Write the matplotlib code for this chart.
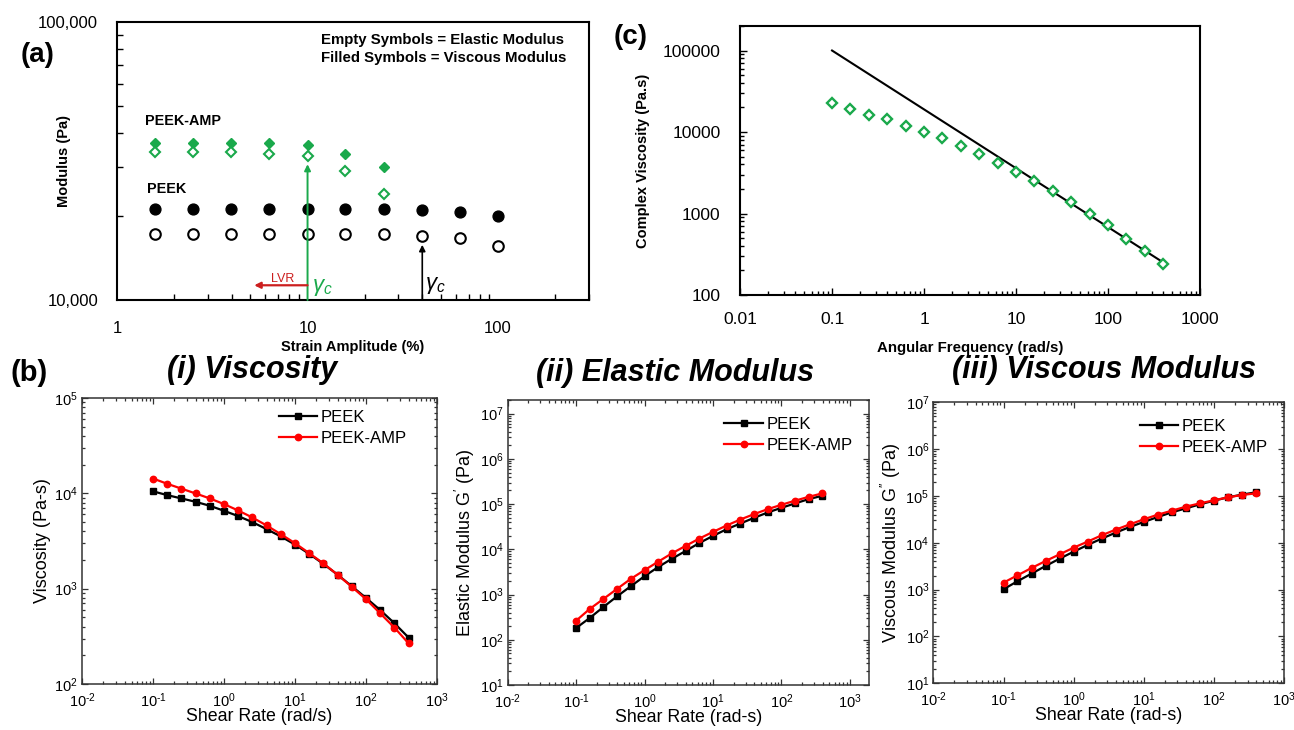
import math
import matplotlib
matplotlib.use("Agg")
import matplotlib.pyplot as plt
from matplotlib.ticker import LogLocator, FuncFormatter, NullFormatter, FixedLocator, FixedFormatter

plt.rcParams['font.family'] = ['Liberation Sans', 'DejaVu Sans']
plt.rcParams['mathtext.fontset'] = 'custom'
plt.rcParams['mathtext.rm'] = 'Liberation Sans'
plt.rcParams['mathtext.it'] = 'Liberation Sans:italic'
plt.rcParams['mathtext.bf'] = 'Liberation Sans:bold'
plt.rcParams['axes.unicode_minus'] = False

GREEN = "#1aa94b"

# ---------------- (a) amplitude sweep ----------------
strain = [1.58, 2.51, 3.98, 6.31, 10.0, 15.8, 25.1, 39.8, 63.1, 100.0]
peek_viscous = [21200, 21200, 21200, 21200, 21200, 21200, 21200, 21100, 20800, 20000]
peek_elastic = [17300, 17300, 17300, 17300, 17300, 17300, 17300, 17000, 16700, 15700]
amp_strain = [1.58, 2.51, 3.98, 6.31, 10.0, 15.8, 25.1]
amp_viscous = [36800, 36800, 36800, 36600, 36100, 33400, 30200]
amp_elastic = [34000, 34000, 34000, 33400, 33000, 29000, 24000]
gamma_c_amp = 10.0
gamma_c_peek = 40.0
a_xticks = [1, 10, 100]
a_xticklabels = ["1", "10", "100"]
a_yticks = [10000, 100000]
a_yticklabels = ["10,000", "100,000"]

# ---------------- (c) complex viscosity ----------------
freq = [0.1, 0.158, 0.251, 0.398, 0.631, 1.0, 1.58, 2.51, 3.98, 6.31, 10.0,
        15.8, 25.1, 39.8, 63.1, 100.0, 158.0, 251.0, 398.0]
complex_visc = [22600, 19000, 16000, 14300, 12000, 10000, 8450, 6750, 5380, 4220, 3270,
                2490, 1880, 1390, 1000, 721, 490, 344, 238]
fit_freq = [0.1, 400.0]
fit_visc = [100000, 250]

# ---------------- (b) shear rate sweeps ----------------
rate = freq
visc_peek = [10500, 9580, 8840, 8150, 7400, 6560, 5770, 4990, 4210, 3530, 2900,
             2320, 1820, 1400, 1060, 800, 598, 434, 307]
visc_amp = [14300, 12600, 11200, 9970, 8840, 7710, 6610, 5580, 4600, 3730, 3000,
            2360, 1840, 1400, 1045, 775, 552, 391, 267]
gp_peek = [182, 303, 532, 918, 1530, 2550, 4050, 6200, 9180, 13800, 19800,
           27800, 37200, 49700, 65300, 82900, 103500, 129000, 153000]
gp_amp = [264, 480, 801, 1340, 2230, 3470, 5320, 8150, 11900, 17300, 24300,
          33600, 45600, 60000, 77400, 96600, 119000, 145000, 173000]
gpp_peek = [1020, 1510, 2200, 3200, 4590, 6480, 8990, 12300, 16500, 21800, 27900,
            35600, 44800, 54500, 66400, 79400, 93700, 107000, 120000]
gpp_amp = [1410, 2020, 2900, 4090, 5680, 7890, 10600, 14500, 19100, 24800, 31800,
           39900, 48600, 59200, 69700, 80800, 93700, 105000, 114000]

fig = plt.figure(figsize=(12.94, 7.30), dpi=100)

# ===== panel (a) =====
axa = fig.add_axes([0.0904, 0.589, 0.3648, 0.3808])
axa.set_xscale('log'); axa.set_yscale('log')
axa.plot(strain, peek_viscous, 'o', color='black', ms=7.8, zorder=3)
axa.plot(strain, peek_elastic, 'o', mfc='white', mec='black', mew=1.5, ms=7.6, zorder=3)
axa.plot(amp_strain, amp_viscous, 'D', color=GREEN, ms=5.4, zorder=3)
axa.plot(amp_strain, amp_elastic, 'D', mfc='white', mec=GREEN, mew=1.5, ms=5.0, zorder=3)
axa.set_xlim(1, 300); axa.set_ylim(10000, 100000)
axa.xaxis.set_major_locator(FixedLocator(a_xticks))
axa.xaxis.set_major_formatter(FixedFormatter(a_xticklabels))
axa.xaxis.set_minor_locator(LogLocator(base=10, subs=range(2, 10)))
axa.xaxis.set_minor_formatter(NullFormatter())
axa.yaxis.set_major_locator(FixedLocator(a_yticks))
axa.yaxis.set_major_formatter(FixedFormatter(a_yticklabels))
axa.yaxis.set_minor_locator(LogLocator(base=10, subs=range(2, 10)))
axa.yaxis.set_minor_formatter(NullFormatter())
axa.tick_params(which='both', direction='in', top=False, right=False, labelsize=12, width=1.0)
axa.tick_params(which='major', length=0)
axa.tick_params(axis='x', which='major', pad=15)
axa.tick_params(axis='y', which='major', pad=13.5)
axa.tick_params(which='minor', length=4)
for s in axa.spines.values():
    s.set_linewidth(1.5)
axa.set_xlabel("Strain Amplitude (%)", fontweight='bold', fontsize=10.5, labelpad=3)
axa.set_ylabel("Modulus (Pa)", fontweight='bold', fontsize=10.5)
axa.yaxis.set_label_coords(-0.097, 0.5)
axa.text(0.432, 0.935, "Empty Symbols = Elastic Modulus", transform=axa.transAxes,
         fontsize=10.8, fontweight='bold', va='center')
axa.text(0.432, 0.87, "Filled Symbols = Viscous Modulus", transform=axa.transAxes,
         fontsize=10.8, fontweight='bold', va='center')
axa.text(1.41, 44000, "PEEK-AMP", fontsize=10.4, fontweight='bold', va='center')
axa.text(1.43, 25000, "PEEK", fontsize=10.4, fontweight='bold', va='center')
axa.annotate("", xy=(gamma_c_amp, 30800), xytext=(gamma_c_amp, 10000),
             arrowprops=dict(arrowstyle='-|>', color=GREEN, lw=1.4, mutation_scale=9,
                             shrinkA=0, shrinkB=0))
axa.annotate("", xy=(gamma_c_peek, 15800), xytext=(gamma_c_peek, 10000),
             arrowprops=dict(arrowstyle='-|>', color='black', lw=1.2, mutation_scale=9,
                             shrinkA=0, shrinkB=0))
axa.annotate("", xy=(5.25, 11300), xytext=(gamma_c_amp, 11300),
             arrowprops=dict(arrowstyle='-|>', color='#cc1f1f', lw=1.6, mutation_scale=9,
                             shrinkA=0, shrinkB=0))
axa.text(7.4, 11900, "LVR", color='#cc1f1f', fontsize=9, ha='center', va='center')
axa.text(10.5, 11100, r"$\gamma_c$", color=GREEN, fontsize=16, va='center')
axa.text(41.5, 11300, r"$\gamma_c$", color='black', fontsize=16, va='center')
fig.text(0.016, 0.925, "(a)", fontsize=20, fontweight='bold', va='center')

# ===== panel (c) =====
axc = fig.add_axes([0.5719, 0.5959, 0.3555, 0.3685])
axc.set_xscale('log'); axc.set_yscale('log')
axc.plot(fit_freq, fit_visc, '-', color='black', lw=1.5, zorder=2)
axc.plot(freq, complex_visc, 'D', mfc='white', mec=GREEN, mew=1.7, ms=5.6, zorder=3)
axc.set_xlim(0.01, 1000); axc.set_ylim(100, 200000)
fmt = FuncFormatter(lambda v, p: f"{v:g}" if v < 1 else f"{v:.0f}")
axc.xaxis.set_major_locator(LogLocator(base=10, numticks=10))
axc.yaxis.set_major_locator(LogLocator(base=10, numticks=10))
axc.xaxis.set_major_formatter(fmt); axc.yaxis.set_major_formatter(fmt)
axc.xaxis.set_minor_locator(LogLocator(base=10, subs=range(2, 10), numticks=20))
axc.yaxis.set_minor_locator(LogLocator(base=10, subs=range(2, 10), numticks=20))
axc.xaxis.set_minor_formatter(NullFormatter()); axc.yaxis.set_minor_formatter(NullFormatter())
axc.tick_params(which='both', direction='in', top=False, right=False, width=1.0)
axc.tick_params(which='major', length=5)
axc.tick_params(axis='x', which='major', pad=12)
axc.tick_params(axis='y', which='major', pad=14)
axc.tick_params(which='minor', length=3)
for lab in axc.get_xticklabels() + axc.get_yticklabels():
    lab.set_fontsize(12.5)
for s in axc.spines.values():
    s.set_linewidth(1.5)
axc.set_xlabel("Angular Frequency (rad/s)", fontweight='bold', fontsize=10.8, labelpad=10)
axc.set_ylabel("Complex Viscosity (Pa.s)", fontweight='bold', fontsize=10.5)
axc.yaxis.set_label_coords(-0.196, 0.5)
fig.text(0.474, 0.95, "(c)", fontsize=20, fontweight='bold', va='center')

# ===== panel (b) =====
def pow10(v, p):
    e = int(round(math.log10(v)))
    s = r"\text{-}%d" % (-e) if e < 0 else "%d" % e
    return r"$\mathregular{10^{%s}}$" % s

def style_b(ax, xlab, ylab, ylim, xlim):
    ax.set_xscale('log'); ax.set_yscale('log')
    ax.set_xlim(*xlim); ax.set_ylim(*ylim)
    ax.xaxis.set_major_locator(LogLocator(base=10, numticks=12))
    ax.yaxis.set_major_locator(LogLocator(base=10, numticks=12))
    ax.xaxis.set_major_formatter(FuncFormatter(pow10))
    ax.yaxis.set_major_formatter(FuncFormatter(pow10))
    ax.xaxis.set_minor_locator(LogLocator(base=10, subs=range(2, 10), numticks=30))
    ax.yaxis.set_minor_locator(LogLocator(base=10, subs=range(2, 10), numticks=30))
    ax.xaxis.set_minor_formatter(NullFormatter()); ax.yaxis.set_minor_formatter(NullFormatter())
    ax.tick_params(which='both', direction='in', top=True, right=True, labelsize=10.5,
                   color='#333333', width=0.9)
    ax.tick_params(which='major', length=4.5, pad=3)
    ax.tick_params(axis='x', which='major', pad=5)
    ax.tick_params(which='minor', length=2.5)
    for s in ax.spines.values():
        s.set_linewidth(1.1); s.set_color('#333333')
    ax.set_xlabel(xlab, fontsize=12.8, labelpad=-1)
    ax.set_ylabel(ylab, fontsize=13, labelpad=2)

def plot_pair(ax, y1, y2, anchor=None):
    ax.plot(rate, y1, '-s', color='black', lw=1.6, ms=4.2, label='PEEK', zorder=3)
    ax.plot(rate, y2, '-o', color='#ff0000', lw=1.6, ms=4.6, label='PEEK-AMP', zorder=3)
    kw = dict(loc='upper right', frameon=False, fontsize=12, handlelength=2.3,
              handletextpad=0.2, labelspacing=0.35)
    if anchor is None:
        ax.legend(borderaxespad=0.6, **kw)
    else:
        ax.legend(bbox_to_anchor=anchor, borderaxespad=0.0, **kw)

ax1 = fig.add_axes([0.0634, 0.063, 0.2743, 0.3918])
plot_pair(ax1, visc_peek, visc_amp, anchor=(0.934, 0.9825))
style_b(ax1, "Shear Rate (rad/s)", "Viscosity (Pa-s)", (1e2, 1e5), (1e-2, 1e3))

ax2 = fig.add_axes([0.3923, 0.0616, 0.2792, 0.3904])
plot_pair(ax2, gp_peek, gp_amp)
style_b(ax2, "Shear Rate (rad-s)", r"Elastic Modulus G$^{\prime}$ (Pa)", (1e1, 2e7), (1e-2, 1.9e3))

ax3 = fig.add_axes([0.7213, 0.064, 0.2712, 0.3849])
plot_pair(ax3, gpp_peek, gpp_amp)
style_b(ax3, "Shear Rate (rad-s)", r"Viscous Modulus G$^{\prime\prime}$ (Pa)", (1e1, 1e7), (1e-2, 1e3))

title_kw = dict(fontsize=22, fontweight='bold', fontstyle='italic', ha='center', va='center')
fig.text(0.195, 0.493, "(i) Viscosity", **title_kw)
fig.text(0.5216, 0.489, "(ii) Elastic Modulus", **title_kw)
fig.text(0.853, 0.493, "(iii) Viscous Modulus", **title_kw)
fig.text(0.008, 0.489, "(b)", fontsize=21, fontweight='bold', va='center')

fig.savefig("out.png", dpi=100)
